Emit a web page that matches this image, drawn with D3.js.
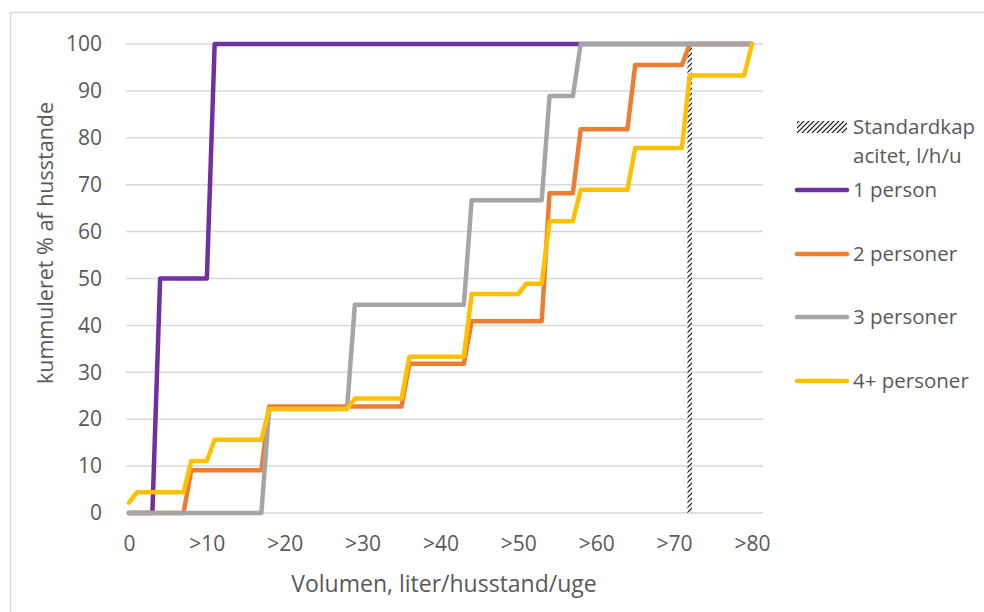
<!DOCTYPE html>
<html>
<head>
<meta charset="utf-8">
<script src="https://cdn.jsdelivr.net/npm/d3@7"></script>
<style>
  html, body { margin: 0; padding: 0; background: #fff; }
  svg text { font-family: "Open Sans", sans-serif; fill: #595959; }
</style>
</head>
<body>
<svg id="chart" width="984" height="612"></svg>
<script>
// ---- data ----
const categories = d3.range(0, 81); // volume categories 0..80
const xTickCats = [0, 10, 20, 30, 40, 50, 60, 70, 80];
const xTickLabels = ["0", ">10", ">20", ">30", ">40", ">50", ">60", ">70", ">80"];
const yTicks = [0, 10, 20, 30, 40, 50, 60, 70, 80, 90, 100];

const person1 = [
  0,0,0,0,
  50,50,50,50,50,50,50,
  100,100,100,100,100,100,100,100,100,100,100,100,100,100,100,100,100,100,100,100,
  100,100,100,100,100,100,100,100,100,100,100,100,100,100,100,100,100,100,100,100,
  100,100,100,100,100,100,100,100,100,100,100,100,100,100,100,100,100,100,100,100,
  100,100,100,100,100,100,100,100,100,100
];
const person2 = [
  0,0,0,0,0,0,0,0,
  9.1,9.1,9.1,9.1,9.1,9.1,9.1,9.1,9.1,9.1,
  22.7,22.7,22.7,22.7,22.7,22.7,22.7,22.7,22.7,22.7,22.7,22.7,22.7,22.7,22.7,22.7,22.7,22.7,
  31.8,31.8,31.8,31.8,31.8,31.8,31.8,31.8,
  40.9,40.9,40.9,40.9,40.9,40.9,40.9,40.9,40.9,40.9,
  68.2,68.2,68.2,68.2,
  81.8,81.8,81.8,81.8,81.8,81.8,81.8,
  95.5,95.5,95.5,95.5,95.5,95.5,95.5,
  100,100,100,100,100,100,100,100,100
];
const person3 = [
  0,0,0,0,0,0,0,0,0,0,0,0,0,0,0,0,0,0,
  22.2,22.2,22.2,22.2,22.2,22.2,22.2,22.2,22.2,22.2,22.2,
  44.4,44.4,44.4,44.4,44.4,44.4,44.4,44.4,44.4,44.4,44.4,44.4,44.4,44.4,44.4,
  66.7,66.7,66.7,66.7,66.7,66.7,66.7,66.7,66.7,66.7,
  88.9,88.9,88.9,88.9,
  100,100,100,100,100,100,100,100,100,100,100,100,100,100,100,100,100,100,100,100,100,100,100
];
const person4 = [
  2.2,
  4.4,4.4,4.4,4.4,4.4,4.4,4.4,
  11.1,11.1,11.1,
  15.6,15.6,15.6,15.6,15.6,15.6,15.6,
  22.2,22.2,22.2,22.2,22.2,22.2,22.2,22.2,22.2,22.2,22.2,
  24.4,24.4,24.4,24.4,24.4,24.4,24.4,
  33.3,33.3,33.3,33.3,33.3,33.3,33.3,33.3,
  46.7,46.7,46.7,46.7,46.7,46.7,46.7,
  48.9,48.9,48.9,
  62.2,62.2,62.2,62.2,
  68.9,68.9,68.9,68.9,68.9,68.9,68.9,
  77.8,77.8,77.8,77.8,77.8,77.8,77.8,
  93.3,93.3,93.3,93.3,93.3,93.3,93.3,93.3,
  100
];
const capacityCategory = [72];
const capacityValue = [100];

const seriesNames = ["1 person", "2 personer", "3 personer", "4+ personer"];
const seriesColors = ["#7030A0", "#ED7D31", "#A5A5A5", "#FFC000"];
const seriesValues = [person1, person2, person3, person4];
const capacityName = ["Standardkap", "acitet, l/h/u"];

// ---- drawing ----
const svg = d3.select("#chart");

// chart border
svg.append("rect").attr("x", 10.5).attr("y", 12.5).attr("width", 1100).attr("height", 700)
  .attr("fill", "none").attr("stroke", "#D9D9D9").attr("stroke-width", 1.5);

const x = d3.scaleLinear().domain([0, 80]).range([129, 752]);
const y = d3.scaleLinear().domain([0, 100]).range([513, 44]);

// hatch pattern
const defs = svg.append("defs");
const pat = defs.append("pattern").attr("id", "hatch")
  .attr("patternUnits", "userSpaceOnUse").attr("width", 5).attr("height", 5);
pat.append("rect").attr("width", 5).attr("height", 5).attr("fill", "#fff");
pat.append("path").attr("d", "M-1,1 l2,-2 M0,5 l5,-5 M4,6 l2,-2")
  .attr("stroke", "#111").attr("stroke-width", 1.2);

// gridlines
svg.append("g").selectAll("line").data(yTicks).join("line")
  .attr("x1", 126).attr("x2", 763)
  .attr("y1", d => y(d)).attr("y2", d => y(d))
  .attr("stroke", "#D9D9D9").attr("stroke-width", 1.5);

// y axis labels
const yAxis = d3.axisLeft(y).tickValues(yTicks).tickSize(0).tickPadding(0);
const yg = svg.append("g").attr("transform", "translate(102,0)").call(yAxis);
yg.select(".domain").remove();
yg.selectAll("text").attr("font-size", 21).attr("font-family", "Open Sans").attr("fill", "#595959");

// x axis labels
const xAxis = d3.axisBottom(x).tickValues(xTickCats)
  .tickFormat((d, i) => xTickLabels[i]).tickSize(0).tickPadding(0);
const xg = svg.append("g").attr("transform", "translate(0,551)").call(xAxis);
xg.select(".domain").remove();
xg.selectAll("text").attr("font-size", 21).attr("font-family", "Open Sans").attr("fill", "#595959")
  .attr("dy", 0).attr("y", 0);

// capacity bar
const barW = 4.5;
svg.append("g").selectAll("rect").data(capacityCategory).join("rect")
  .attr("x", d => x(d) - barW / 2)
  .attr("width", barW)
  .attr("y", (d, i) => y(capacityValue[i]))
  .attr("height", (d, i) => y(0) - y(capacityValue[i]))
  .attr("fill", "url(#hatch)");

// lines
const line = d3.line().x((d, i) => x(categories[i])).y(d => y(d));
svg.append("g").selectAll("path").data(seriesValues).join("path")
  .attr("d", d => line(d))
  .attr("fill", "none")
  .attr("stroke", (d, i) => seriesColors[i])
  .attr("stroke-width", 4.5)
  .attr("stroke-linejoin", "round")
  .attr("stroke-linecap", "round");

// axis titles
svg.append("text").attr("x", 444).attr("y", 592).attr("text-anchor", "middle")
  .attr("font-size", 23).text("Volumen, liter/husstand/uge");
svg.append("text").attr("transform", "translate(53,243) rotate(-90)").attr("text-anchor", "middle")
  .attr("font-size", 21.5).text("kummuleret % af husstande");

// legend
const lg = svg.append("g");
lg.append("rect").attr("x", 797).attr("y", 121).attr("width", 50).attr("height", 12)
  .attr("fill", "url(#hatch)");
lg.append("text").attr("x", 853).attr("y", 134).attr("font-size", 20.5).text(capacityName[0]);
lg.append("text").attr("x", 853).attr("y", 163).attr("font-size", 20.5).text(capacityName[1]);
const legendY = [190, 254, 317, 381];
seriesNames.forEach((name, i) => {
  lg.append("line").attr("x1", 797).attr("x2", 847).attr("y1", legendY[i]).attr("y2", legendY[i])
    .attr("stroke", seriesColors[i]).attr("stroke-width", 4.5).attr("stroke-linecap", "round");
  lg.append("text").attr("x", 853).attr("y", legendY[i]).attr("dy", "0.35em")
    .attr("font-size", 20.5).text(name);
});
</script>
</body>
</html>
